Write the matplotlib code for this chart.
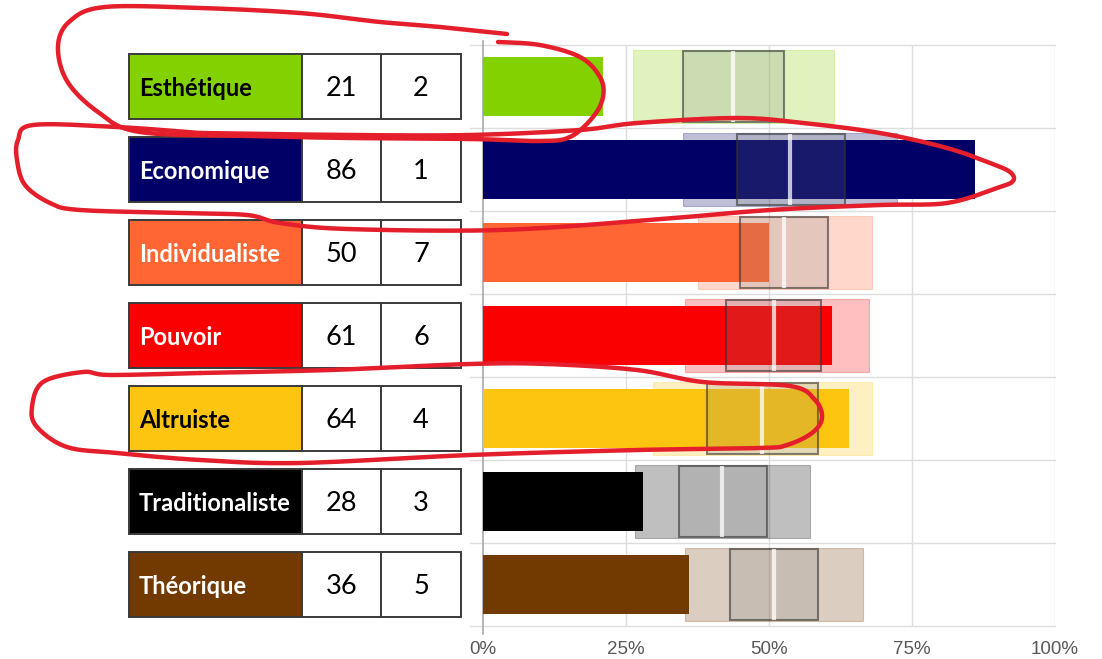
import numpy as np
import matplotlib
matplotlib.use("Agg")
import matplotlib.pyplot as plt
from matplotlib.patches import Rectangle

# 🔹 Data
categories = ["Esthétique", "Economique", "Individualiste", "Pouvoir",
              "Altruiste", "Traditionaliste", "Théorique"]
scores = [21, 86, 50, 61, 64, 28, 36]
ranks = [2, 1, 7, 6, 4, 3, 5]
band_low = [26.3, 35.0, 37.5, 35.3, 29.7, 26.6, 35.4]
band_high = [61.3, 72.4, 68.0, 67.4, 68.0, 57.1, 66.4]
box_low = [35.0, 44.4, 45.0, 42.4, 39.1, 34.2, 43.1]
box_high = [52.6, 63.2, 60.4, 59.1, 58.5, 49.6, 58.6]
medians = [43.7, 53.7, 52.7, 50.8, 48.7, 41.7, 50.9]
bar_colors = ["#84D100", "#000066", "#FF6633", "#FA0000",
              "#FDC510", "#000000", "#723A00"]
label_text_colors = ["black", "white", "white", "white", "black", "white", "white"]
xticks = [0, 25, 50, 75, 100]
xtick_labels = ["0%", "25%", "50%", "75%", "100%"]

# 🔹 Hand-drawn red annotation strokes (figure pixels, from top-left)
strokes = [
    [(507, 34), (440, 27), (380, 22), (300, 13), (200, 8), (105, 7), (70, 21),
     (58, 46), (67, 81), (98, 112), (140, 132), (250, 136), (350, 138),
     (470, 139), (540, 141), (570, 137), (593, 117), (603, 97), (600, 77),
     (580, 57), (540, 45), (498, 42)],
    [(200, 133), (117, 127), (33, 125), (18, 140), (17, 160), (25, 185),
     (50, 203), (80, 210), (180, 213), (247, 215), (280, 223), (347, 229),
     (500, 230), (650, 220), (770, 210), (880, 205), (947, 203), (997, 188),
     (1013, 181), (1010, 172), (990, 163), (947, 148), (880, 133), (803, 123),
     (737, 118), (637, 123), (580, 130), (470, 135), (350, 135), (200, 133)],
    [(200, 373), (110, 375), (83, 372), (43, 382), (32, 407), (37, 427),
     (67, 447), (117, 453), (200, 460), (300, 463), (470, 455), (637, 450),
     (760, 448), (787, 445), (812, 433), (822, 418), (815, 400), (790, 386),
     (703, 382), (637, 370), (547, 364), (470, 364), (330, 370), (200, 373)],
]

W, H = 1102, 659


def smooth(points, n=12):
    # Catmull-Rom through the stroke points
    p = np.array(points, dtype=float)
    p = np.vstack([p[0], p, p[-1]])
    out = []
    for i in range(1, len(p) - 2):
        p0, p1, p2, p3 = p[i - 1], p[i], p[i + 1], p[i + 2]
        for t in np.linspace(0, 1, n, endpoint=False):
            t2, t3 = t * t, t * t * t
            out.append(0.5 * ((2 * p1) + (-p0 + p2) * t
                              + (2 * p0 - 5 * p1 + 4 * p2 - p3) * t2
                              + (-p0 + 3 * p1 - 3 * p2 + p3) * t3))
    out.append(p[-2])
    return np.array(out)


def main():
    fig = plt.figure(figsize=(W / 100, H / 100), dpi=100)
    fig.patch.set_facecolor("white")
    left, right, top, bottom = 483, 1055, 45, 626
    ax = fig.add_axes([left / W, 1 - bottom / H, (right - left) / W, (bottom - top) / H])

    n = len(categories)
    ax.set_xlim(0, 100)
    ax.set_ylim(n - 0.5, -0.5)
    for s in ax.spines.values():
        s.set_visible(False)

    # grid
    for xv in xticks[1:]:
        ax.axvline(xv, color="#DDDDDD", lw=1, zorder=0)
    for yv in np.arange(-0.5, n, 1.0):
        ax.plot([-2.3, 100], [yv, yv], color="#DDDDDD", lw=1, zorder=0, clip_on=False)
    ax.plot([0, 0], [-0.55, n - 0.4], color="#A8A8B0", lw=1.2, zorder=0.5, clip_on=False)

    y = np.arange(n)
    for i in range(n):
        c = bar_colors[i]
        ax.barh(y[i], band_high[i] - band_low[i], left=band_low[i], height=0.87,
                color=c, alpha=0.25, edgecolor=c, linewidth=0.8, zorder=1)
        ax.barh(y[i], scores[i], height=0.71, color=c, zorder=2)
        ax.barh(y[i], box_high[i] - box_low[i], left=box_low[i], height=0.85,
                facecolor=(0.5, 0.5, 0.5, 0.2), edgecolor=(0.2, 0.2, 0.2, 0.6),
                linewidth=1.5, zorder=3)
        ax.plot([medians[i], medians[i]], [y[i] - 0.425, y[i] + 0.425],
                color="white", alpha=0.75, lw=3, zorder=4, solid_capstyle="butt")

    ax.set_xticks(xticks)
    ax.set_xticklabels(xtick_labels, fontsize=13.5, color="#595959",
                       family="Liberation Sans")
    ax.tick_params(axis="x", length=0, pad=11)
    ax.set_yticks([])

    # table on the left, in the same data units
    px = 572 / 100
    cols = [(129 - left) / px, (302 - left) / px, (381 - left) / px, (461 - left) / px]
    ch = 0.795
    for i in range(n):
        fills = [bar_colors[i], "white", "white"]
        for j in range(3):
            ax.add_patch(Rectangle((cols[j], y[i] - ch / 2), cols[j + 1] - cols[j], ch,
                                   facecolor=fills[j], edgecolor="#3A3A3A", lw=1.4,
                                   clip_on=False, zorder=5))
        ax.text(cols[0] + 10 / px, y[i] + 0.03, categories[i], color=label_text_colors[i],
                fontsize=17, fontweight="bold", family="Lato", va="center", ha="left",
                clip_on=False, zorder=6)
        ax.text((cols[1] + cols[2]) / 2, y[i] + 0.03, str(scores[i]), fontsize=19.5,
                family="Lato", va="center", ha="center", clip_on=False, zorder=6)
        ax.text((cols[2] + cols[3]) / 2, y[i] + 0.03, str(ranks[i]), fontsize=19.5,
                family="Lato", va="center", ha="center", clip_on=False, zorder=6)

    # red annotations
    for st in strokes:
        pts = smooth(st)
        fig.add_artist(plt.Line2D(pts[:, 0] / W, 1 - pts[:, 1] / H, color="#E41E2B",
                                  lw=3.2, solid_capstyle="round", solid_joinstyle="round",
                                  transform=fig.transFigure, zorder=10))

    fig.savefig("out.png", dpi=100)


if __name__ == "__main__":
    main()
